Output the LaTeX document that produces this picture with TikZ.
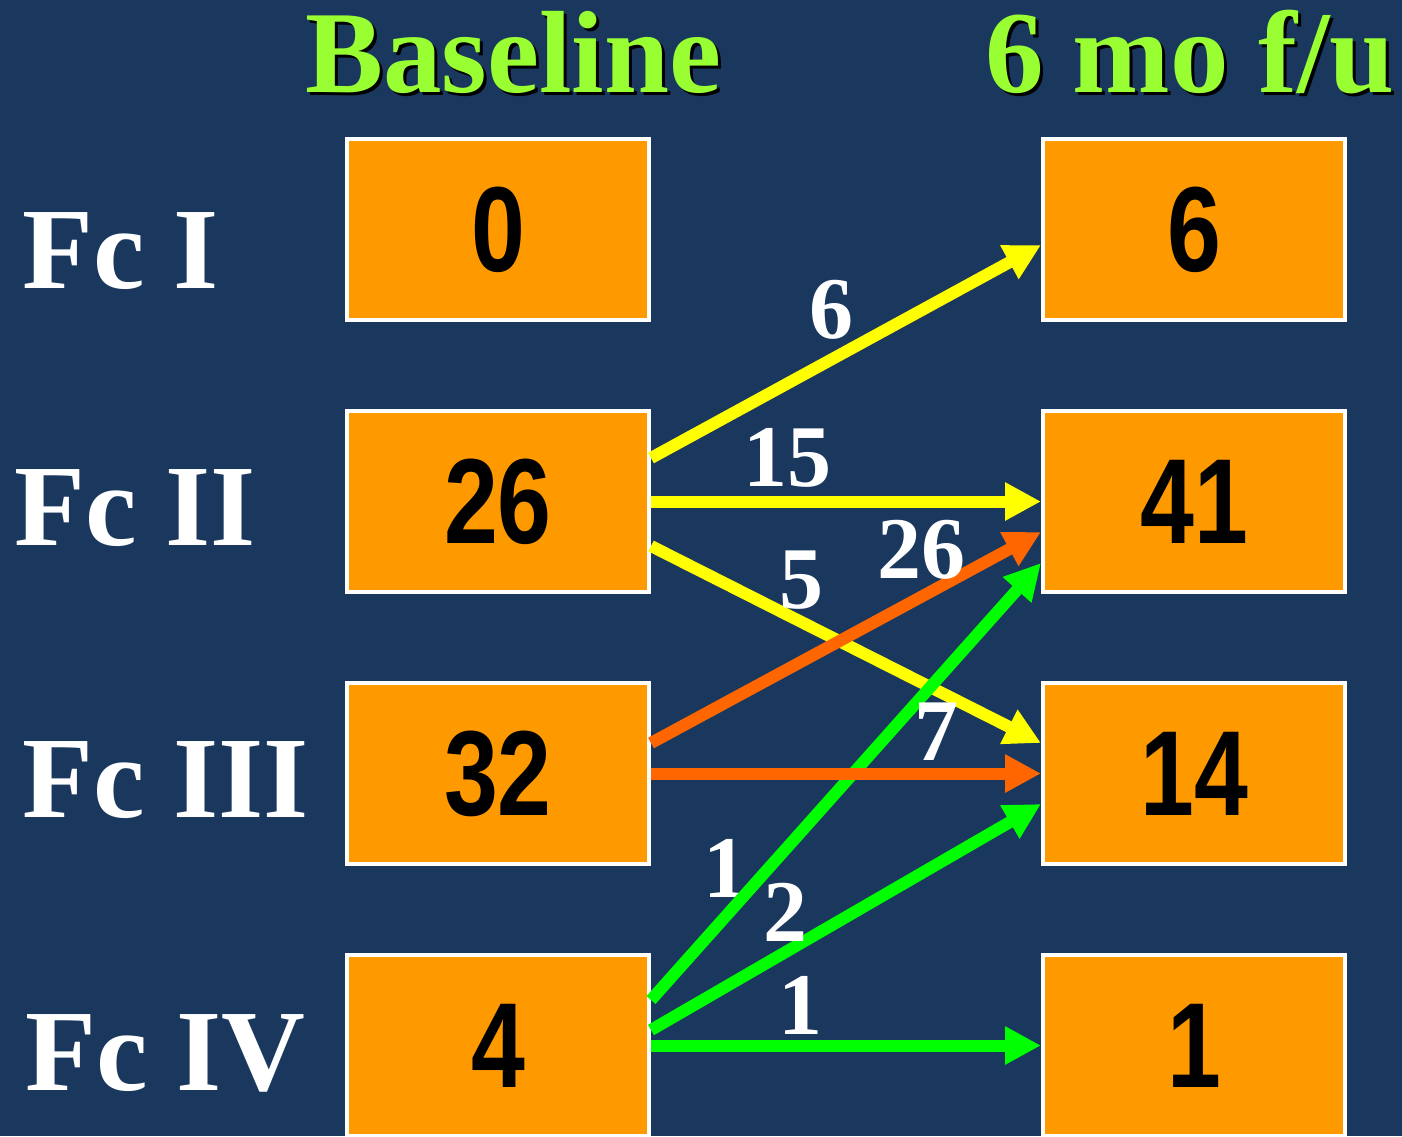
\documentclass[tikz,border=0pt]{standalone}
\usepackage{fontspec}
\setmainfont{Liberation Serif}
\newfontfamily\numfont{Liberation Sans}
\usetikzlibrary{arrows.meta}

\definecolor{navy}{HTML}{1A375E}
\definecolor{boxorange}{HTML}{FF9900}
\definecolor{titlegreen}{HTML}{99FF33}
\definecolor{flowyellow}{HTML}{FFFF00}
\definecolor{floworange}{HTML}{FF6600}
\definecolor{flowgreen}{HTML}{00FF00}

\tikzset{
  countbox/.style={draw=white, line width=4pt, fill=boxorange,
    minimum width=302pt, minimum height=181pt, inner sep=0pt,
    font=\numfont\bfseries\fontsize{121}{121}\selectfont},
  classlabel/.style={anchor=base west, inner sep=0pt, text=white,
    font=\bfseries\fontsize{116}{116}\selectfont},
  heading/.style={anchor=base west, inner sep=0pt,
    font=\bfseries\fontsize{117}{117}\selectfont},
  flow/.style={line width=12pt, -{Triangle[length=36pt,width=36pt]}},
  count/.style={inner sep=0pt, text=white,
    font=\bfseries\fontsize{88}{88}\selectfont}
}
\newcommand{\narrow}[1]{\scalebox{0.8}[1]{#1}}

\begin{document}
\begin{tikzpicture}[x=1pt,y=-1pt]
\fill[navy] (0,0) rectangle (1402,1136);
\useasboundingbox (0,0) rectangle (1402,1136);

% column headings with drop shadow
\node[heading, text=black] (hbs) at (308,95) {Baseline};
\node[heading, text=titlegreen] (hb) at (305,92) {Baseline};
\node[heading, text=black] (hfs) at (988,95) {6 mo f/u};
\node[heading, text=titlegreen] (hf) at (985,92) {6 mo f/u};

% functional class labels
\node[classlabel] (c1) at (22,288) {Fc I};
\node[classlabel] (c2) at (14,545) {Fc II};
\node[classlabel] (c3) at (22,817) {Fc III};
\node[classlabel] (c4) at (25,1090) {Fc IV};

% baseline counts
\node[countbox] (l1) at (498,229.5) {\narrow{0}};
\node[countbox] (l2) at (498,501.5) {\narrow{26}};
\node[countbox] (l3) at (498,773.5) {\narrow{32}};
\node[countbox] (l4) at (498,1045.5) {\narrow{4}};

% follow-up counts
\node[countbox] (r1) at (1194,229.5) {\narrow{6}};
\node[countbox] (r2) at (1194,501.5) {\narrow{41}};
\node[countbox] (r3) at (1194,773.5) {\narrow{14}};
\node[countbox] (r4) at (1194,1045.5) {\narrow{1}};

% label lying under the steep green flow
\node[count] (n41a) at (725,868) {1};

% transitions from class II
\draw[flow, flowyellow] ([yshift=43.5pt]l2.east) -- ([yshift=-15.5pt]r1.west);
\draw[flow, flowyellow] (l2.east) -- (r2.west);
\draw[flow, flowyellow] ([yshift=-44.5pt]l2.east) -- ([yshift=30.5pt]r3.west);
% transitions from class III
\draw[flow, floworange] ([yshift=30.5pt]l3.east) -- ([yshift=-30.5pt]r2.west);
% transitions from class IV
\draw[flow, flowgreen] ([yshift=45.5pt]l4.east) -- ([yshift=-61.5pt]r2.west);
\draw[flow, flowgreen] ([yshift=15.5pt]l4.east) -- ([yshift=-30.5pt]r3.west);
\draw[flow, flowgreen] (l4.east) -- (r4.west);
\draw[flow, floworange] (l3.east) -- (r3.west);

% transition counts
\node[count] (n21) at (831,310) {6};
\node[count] (n22) at (787,458) {15};
\node[count] (n23) at (801,580) {5};
\node[count] (n32) at (921,550) {26};
\node[count] (n33) at (936,732) {7};
\node[count] (n43) at (785,912) {2};
\node[count] (n44) at (800,1005) {1};
\end{tikzpicture}
\end{document}
